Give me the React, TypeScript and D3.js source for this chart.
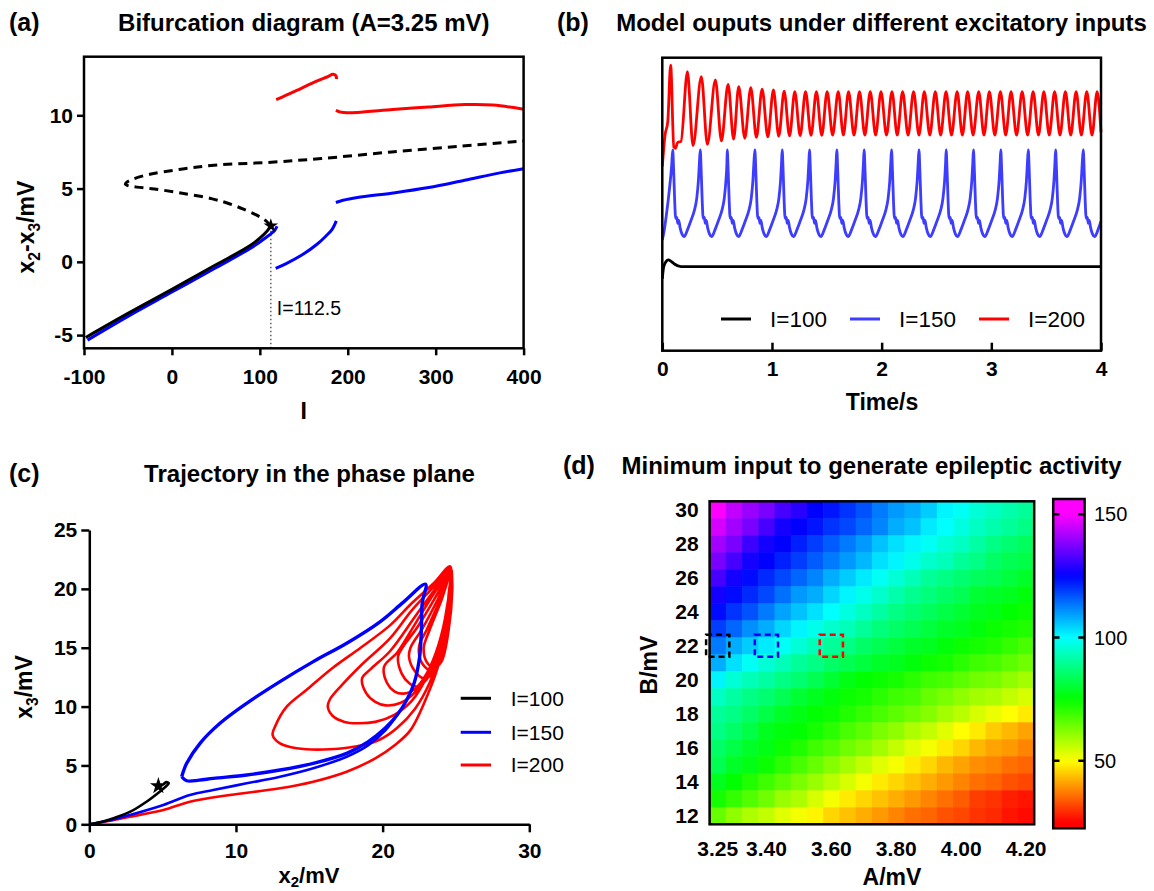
import React, { useEffect, useRef } from "react";
import * as d3 from "d3";

const FONT = "Arial, 'Liberation Sans', Helvetica, sans-serif";

// (a) bifurcation diagram, I vs x2-x3 (mV)
const bifITicks = [-100, 0, 100, 200, 300, 400];
const bifVTicks = [-5, 0, 5, 10];
const bifStable = [[-98, -5.16], [-50, -3.52], [0, -1.88], [50, -0.2], [89, 1.11], [105, 1.89], [112.5, 2.42]];
const bifUnstable = [[112.5, 2.45], [106, 2.85], [96, 3.2], [82, 3.58], [66, 3.95], [46, 4.3], [10, 4.7], [-20, 4.97], [-40, 5.1], [-50, 5.2], [-53, 5.3], [-51, 5.45], [-44, 5.65], [-25, 5.98], [8, 6.3], [48, 6.59], [113, 6.8], [170, 7.05], [250, 7.5], [330, 7.9], [400, 8.25]];
const bifBlueLow = [[-96, -5.34], [-50, -3.72], [0, -2.06], [50, -0.4], [89, 0.91], [107, 1.66], [117, 2.16], [119.5, 2.43]];
const bifBlueMid = [[118, -0.45], [130, -0.12], [150, 0.55], [165, 1.2], [175, 1.75], [182, 2.2], [187, 2.8]];
const bifBlueHigh = [[186.5, 4.05], [194.6, 4.2], [211, 4.39], [251.5, 4.7], [292, 5.07], [333, 5.57], [373, 6.07], [400, 6.36]];
const bifRedLeft = [[118.6, 11.07], [130, 11.37], [142, 11.7], [162, 12.27], [178, 12.66], [183, 12.8], [186.5, 12.7], [187.3, 12.48]];
const bifRedRight = [[186.5, 10.34], [192, 10.22], [199, 10.18], [211, 10.2], [251, 10.39], [292, 10.57], [333, 10.73], [365, 10.7], [400, 10.41]];
const hopfPoint = [112.5, 2.45];

// (b) model outputs over time (arbitrary vertical units)
const timeTicks = [0, 1, 2, 3, 4];
const outBlack = [[0, 24.5], [0.012, 28.5], [0.034, 30.4], [0.055, 31], [0.08, 30.5], [0.11, 29.6], [0.17, 28.7], [0.3, 28.7], [4, 28.7]];
const outBlueStart = [[0, 37.8], [0.015, 40.5], [0.037, 46.3], [0.066, 55.5], [0.085, 63]];
const outBluePeaks = [0.095, 0.346, 0.592, 0.844, 1.093, 1.342, 1.591, 1.84, 2.09, 2.34, 2.588, 2.837, 3.086, 3.337, 3.586, 3.838];
const outBlueCycle = [[0, 68.5], [0.009, 61], [0.018, 51], [0.027, 45.2], [0.037, 45.5], [0.046, 43.5], [0.055, 44.5], [0.067, 42], [0.085, 39.8], [0.103, 38.9], [0.137, 41.5], [0.167, 44.5], [0.198, 48], [0.219, 52], [0.234, 58], [0.243, 64]];
const outBlueEnd = [[4, 44.2]];
const outRedStart = [[0, 62.8], [0.025, 73.6], [0.05, 78.2]];
const outRedPeaks = [[0.076, 97.5], [0.229, 95.2], [0.356, 93.5], [0.484, 92.4], [0.6, 90.9], [0.697, 90.1], [0.807, 89.8], [0.91, 89.3], [1.013, 89.0], [1.111, 88.6], [1.208, 88.4], [1.306, 88.4], [1.405, 88.4], [1.503, 88.4], [1.604, 88.4], [1.698, 88.4], [1.798, 88.4], [1.896, 88.4], [1.994, 88.4], [2.094, 88.4], [2.191, 88.4], [2.291, 88.4], [2.389, 88.4], [2.489, 88.4], [2.587, 88.4], [2.688, 88.4], [2.784, 88.4], [2.885, 88.4], [2.982, 88.4], [3.083, 88.4], [3.18, 88.4], [3.281, 88.4], [3.381, 88.4], [3.479, 88.4], [3.577, 88.4], [3.675, 88.4], [3.773, 88.4], [3.87, 88.4], [3.965, 88.4]];
const outRedTroughs = [[0.105, 69.5], [0.119, 69.1], [0.14, 71.1], [0.17, 71.4], [0.28, 70.0], [0.411, 70.4], [0.539, 71.6], [0.65, 72.2], [0.752, 72.5], [0.858, 72.8], [0.962, 73.0], [1.062, 73.2], [1.16, 73.3], [1.257, 73.4], [1.356, 73.5], [1.454, 73.5], [1.553, 73.6], [1.651, 73.6], [1.748, 73.6], [1.847, 73.6], [1.945, 73.6], [2.044, 73.6], [2.142, 73.6], [2.241, 73.6], [2.34, 73.6], [2.439, 73.6], [2.538, 73.6], [2.637, 73.6], [2.736, 73.6], [2.834, 73.6], [2.933, 73.6], [3.032, 73.6], [3.131, 73.6], [3.23, 73.6], [3.331, 73.6], [3.43, 73.6], [3.528, 73.6], [3.626, 73.6], [3.724, 73.6], [3.821, 73.6], [3.918, 73.6], [4.0, 74.5]];
const inputLabels = ["I=100", "I=150", "I=200"];

// (c) phase plane, x2 vs x3 (mV)
const phaseXTicks = [0, 10, 20, 30];
const phaseYTicks = [0, 5, 10, 15, 20, 25];
const phaseBlack = [[0, 0], [0.8, 0.2], [1.6, 0.5], [2.8, 1.07], [3.9, 1.92], [4.8, 2.77], [5.3, 3.3], [5.42, 3.5], [5.25, 3.58], [5.05, 3.4]];
const phaseStar = [4.71, 3.25];
const phaseBlueIn = [[0, 0], [1.4, 0.35], [2.77, 0.79], [5.05, 1.64], [6.86, 2.49], [8.45, 2.91], [10.73, 3.48], [13.0, 4.04], [15.27, 4.76], [17.55, 5.74], [19.0, 6.7], [20.2, 8.0], [21.0, 9.3]];
const phaseBlueCycle = [[6.3, 4.04], [6.64, 3.7], [7.5, 3.75], [8.45, 3.9], [10.73, 4.19], [13.0, 4.61], [15.27, 5.18], [17.55, 6.03], [19.0, 7.0], [20.2, 8.2], [21.0, 9.3], [21.66, 10.6], [22.15, 12.0], [22.52, 14.2], [22.64, 16.5], [22.7, 18.8], [22.93, 20.4], [21.4, 18.85], [19.82, 17.2], [17.55, 15.38], [15.27, 13.82], [13.0, 12.12], [10.73, 10.28], [8.91, 8.58], [7.55, 6.88], [6.64, 5.18], [6.3, 4.04]];
const phaseRed = [[0, 0], [1.4, 0.3], [2.77, 0.65], [5.05, 1.21], [6.86, 1.92], [9.59, 2.49], [13.0, 3.06], [15.27, 3.62], [17.55, 4.47], [19.5, 5.6], [20.8, 6.7], [21.9, 8.0], [23.1, 11.1], [23.84, 13.7], [24.34, 17.9], [24.6, 21.9],
  [23.5, 20.5], [22, 18.8], [20.5, 16.9], [18.5, 15.0], [16.5, 13.2], [14.8, 11.4], [13.46, 9.99], [12.66, 8.29], [12.5, 7.59], [13.0, 6.88], [14.14, 6.46], [16.4, 6.37], [18.68, 6.74], [19.82, 7.2], [21.0, 8.2], [22.2, 9.8], [23.2, 12], [23.9, 14.5], [24.3, 17], [24.5, 19.5], [24.6, 21.7],
  [23.5, 20.2], [22, 18.2], [20.5, 15.8], [18.6, 13.6], [17.2, 11.8], [16.4, 10.6], [16.26, 9.99], [16.6, 9.2], [17.4, 8.7], [18.25, 8.58], [19.5, 8.7], [20.8, 9.3], [22, 10.5], [23, 12.5], [23.8, 15], [24.3, 17.8], [24.6, 21.5],
  [23.6, 20], [22.3, 17.8], [20.5, 14.7], [19.2, 13.2], [18.6, 12.4], [18.9, 11.1], [19.5, 10.4], [20.2, 10.1], [21.2, 10.3], [22.2, 11.2], [23.1, 13], [23.9, 15.5], [24.4, 18.5], [24.6, 21.5],
  [23.6, 19.8], [22.3, 17.2], [21, 14.6], [20.1, 13.4], [20.3, 12], [20.8, 11.3], [21.4, 11.1], [22.2, 11.5], [23, 12.8], [23.8, 15.2], [24.4, 18.5], [24.6, 21.5],
  [23.7, 19.5], [22.4, 16.8], [21.3, 14.9], [21.05, 14.24], [21.3, 12.8], [21.8, 12], [22.3, 11.7], [23, 12.3], [23.7, 14.2], [24.3, 17.5], [24.6, 21.3],
  [23.8, 19.2], [22.7, 16.6], [21.9, 15.0], [21.8, 14.2], [22.2, 13.0], [22.8, 12.4], [23.4, 12.8], [24.0, 14.8], [24.5, 18], [24.7, 21.3],
  [23.9, 19], [23.0, 16.5], [22.5, 15.2], [22.6, 13.9], [23.2, 13.1], [23.8, 13.5], [24.3, 15.5], [24.6, 18.5], [24.7, 21.5],
  [24.0, 19.0], [23.2, 16.5], [22.8, 15.0], [23.0, 13.8], [23.5, 13.3], [24.0, 13.8], [24.5, 16.5], [24.75, 20], [24.7, 21.6]];

// (d) minimum input heatmap
const aLabels = ["3.25", "3.30", "3.35", "3.40", "3.45", "3.50", "3.55", "3.60", "3.65", "3.70", "3.75", "3.80", "3.85", "3.90", "3.95", "4.00", "4.05", "4.10", "4.15", "4.20"];
const aTickLabels = ["3.25", "3.40", "3.60", "3.80", "4.00", "4.20"];
const bValues = [30, 29, 28, 27, 26, 25, 24, 23, 22, 21, 20, 19, 18, 17, 16, 15, 14, 13, 12];
const bTickValues = [30, 28, 26, 24, 22, 20, 18, 16, 14, 12];
const minInput = [
  [150, 144, 140, 137, 132, 129, 125, 123, 120, 117, 113, 110, 108, 105, 101, 99, 96, 94, 92, 90],
  [146, 141, 137, 132, 127, 125, 123, 120, 118, 115, 112, 108, 106, 102, 100, 97, 94, 92, 90, 88],
  [141, 137, 131, 127, 125, 122, 119, 116, 113, 110, 106, 103, 101, 99, 96, 94, 91, 88, 86, 84],
  [137, 132, 127, 125, 122, 119, 116, 113, 110, 107, 103, 101, 98, 95, 93, 90, 88, 85, 83, 82],
  [132, 127, 124, 121, 118, 115, 112, 108, 105, 102, 99, 96, 93, 90, 88, 86, 84, 83, 81, 79],
  [127, 124, 121, 118, 114, 110, 108, 104, 101, 98, 95, 92, 89, 87, 85, 83, 80, 79, 78, 76],
  [124, 120, 117, 113, 109, 106, 103, 100, 97, 94, 91, 88, 86, 84, 82, 80, 78, 77, 75, 74],
  [119, 115, 111, 108, 104, 101, 98, 95, 93, 90, 87, 85, 83, 81, 79, 78, 76, 74, 73, 72],
  [113, 108, 105, 102, 99, 96, 93, 90, 88, 85, 83, 81, 79, 78, 76, 74, 73, 72, 70, 68],
  [108, 103, 99, 96, 93, 90, 88, 85, 83, 81, 79, 78, 76, 74, 73, 71, 69, 68, 66, 64],
  [101, 96, 93, 91, 88, 86, 83, 80, 77, 75, 74, 73, 71, 69, 68, 66, 64, 63, 61, 59],
  [94, 91, 88, 86, 83, 80, 78, 76, 74, 73, 71, 69, 68, 65, 63, 61, 59, 58, 56, 54],
  [90, 88, 85, 82, 79, 77, 75, 74, 72, 70, 68, 66, 64, 62, 59, 57, 54, 52, 50, 48],
  [88, 85, 82, 78, 76, 75, 73, 71, 68, 66, 63, 61, 58, 56, 53, 50, 48, 45, 43, 41],
  [85, 82, 79, 77, 74, 72, 69, 67, 64, 62, 59, 56, 53, 51, 48, 46, 43, 41, 40, 38],
  [83, 79, 77, 74, 71, 68, 65, 62, 59, 56, 53, 51, 48, 46, 43, 41, 39, 38, 36, 35],
  [78, 75, 72, 69, 66, 63, 60, 57, 54, 51, 48, 46, 44, 42, 40, 38, 36, 35, 33, 32],
  [73, 70, 67, 64, 60, 58, 54, 51, 48, 46, 44, 42, 40, 38, 36, 34, 31, 30, 28, 27],
  [65, 61, 58, 56, 53, 51, 49, 46, 44, 42, 40, 38, 36, 35, 33, 32, 30, 29, 27, 26],
];
const markedA = ["3.25", "3.40", "3.60"];
const markedB = 22;
const colorTicks = [50, 100, 150];
const colorRange = [22.6, 156.2];

const seriesColors = ["#000000", "#0000ff", "#ff0000"];
const traceColors = ["#000000", "#3d3dff", "#ff0000"];

const styleAxis = (g, size = 21, keepDomain = false) => {
  g.attr("font-family", FONT).attr("font-size", size).attr("font-weight", "bold");
  if (!keepDomain) g.select(".domain").remove();
  else g.select(".domain").attr("stroke", "#000").attr("stroke-width", 2.5);
  g.selectAll(".tick line").attr("stroke", "#000").attr("stroke-width", 2.5);
  g.selectAll(".tick text").attr("fill", "#000");
};

const subText = (sel, parts, shift = 6) => {
  let shifted = false;
  parts.forEach(([t, sub]) => {
    const ts = sel.append("tspan").text(t);
    if (sub) { ts.attr("font-size", "0.68em").attr("dy", shifted ? 0 : shift); shifted = true; }
    else if (shifted) { ts.attr("dy", -shift); shifted = false; }
  });
};

const heading = (svg, label, lx, title, tx, y) => {
  svg.append("text").attr("x", lx).attr("y", y).attr("font-size", 25).attr("font-weight", "bold").text(label);
  svg.append("text").attr("x", tx).attr("y", y).attr("text-anchor", "middle").attr("font-size", 24).attr("font-weight", "bold").text(title);
};

function drawBifurcation(svg) {
  const x = d3.scaleLinear().domain([-100, 400]).range([84, 523.6]);
  const y = d3.scaleLinear().domain([-5.9, 14]).range([348.3, 56.7]);
  const g = svg.append("g");
  const line = d3.line().x(d => x(d[0])).y(d => y(d[1])).curve(d3.curveCatmullRom.alpha(0.5));

  g.append("line").attr("x1", x(hopfPoint[0])).attr("x2", x(hopfPoint[0]))
    .attr("y1", y(-5.9)).attr("y2", y(hopfPoint[1]))
    .attr("stroke", "#444").attr("stroke-width", 1.3).attr("stroke-dasharray", "1.5,2.5");

  const curves = [
    [bifBlueLow, seriesColors[1], null],
    [bifStable, seriesColors[0], null],
    [bifUnstable, seriesColors[0], "9,6"],
    [bifBlueMid, seriesColors[1], null],
    [bifBlueHigh, seriesColors[1], null],
    [bifRedLeft, seriesColors[2], null],
    [bifRedRight, seriesColors[2], null],
  ];
  curves.forEach(([data, color, dash]) => {
    g.append("path").datum(data).attr("d", line).attr("fill", "none")
      .attr("stroke", color).attr("stroke-width", 3).attr("stroke-dasharray", dash);
  });

  g.append("path").attr("d", d3.symbol(d3.symbolStar, 65)())
    .attr("transform", `translate(${x(hopfPoint[0])},${y(hopfPoint[1])})`).attr("fill", "#000");

  g.append("text").attr("x", x(hopfPoint[0]) + 6).attr("y", 315).attr("font-size", 19.5).text("I=112.5");

  g.append("rect").attr("x", 84).attr("y", 56.7).attr("width", 439.6).attr("height", 291.6)
    .attr("fill", "none").attr("stroke", "#000").attr("stroke-width", 2.5);

  g.append("g").attr("transform", "translate(0,348.3)")
    .call(d3.axisBottom(x).tickValues(bifITicks).tickSizeInner(7).tickSizeOuter(0).tickPadding(14).tickFormat(d => String(d)))
    .call(ax => styleAxis(ax));
  g.append("g").attr("transform", "translate(84,0)")
    .call(d3.axisLeft(y).tickValues(bifVTicks).tickSizeInner(7).tickSizeOuter(0).tickPadding(4).tickFormat(d => String(d)))
    .call(ax => styleAxis(ax));

  g.append("text").attr("x", 303.8).attr("y", 419).attr("text-anchor", "middle")
    .attr("font-size", 23).attr("font-weight", "bold").text("I");
  const yl = g.append("text").attr("transform", "translate(34,227) rotate(-90)")
    .attr("text-anchor", "middle").attr("font-size", 23).attr("font-weight", "bold");
  subText(yl, [["x", false], ["2", true], ["-x", false], ["3", true], ["/mV", false]]);

  heading(svg, "(a)", 9, "Bifurcation diagram (A=3.25 mV)", 303.8, 31);
}

function drawTraces(svg) {
  const x = d3.scaleLinear().domain([0, 4]).range([662.3, 1101]);
  const y = d3.scaleLinear().domain([0, 100]).range([350.7, 57.7]);
  const g = svg.append("g");
  const line = d3.line().x(d => x(d[0])).y(d => y(d[1])).curve(d3.curveMonotoneX);

  const blue = [...outBlueStart];
  outBluePeaks.forEach(p => outBlueCycle.forEach(([dt, v]) => { if (p + dt < 4) blue.push([p + dt, v]); }));
  blue.push(...outBlueEnd);
  const red = [...outRedStart, ...outRedPeaks, ...outRedTroughs].sort((a, b) => a[0] - b[0]);

  [[outBlack, traceColors[0]], [blue, traceColors[1]], [red, traceColors[2]]].forEach(([data, color]) => {
    g.append("path").datum(data).attr("d", line).attr("fill", "none")
      .attr("stroke", color).attr("stroke-width", 2.8).attr("stroke-linejoin", "round");
  });

  g.append("rect").attr("x", 662.3).attr("y", 57.7).attr("width", 438.7).attr("height", 293)
    .attr("fill", "none").attr("stroke", "#000").attr("stroke-width", 2.5);

  g.append("g").attr("transform", "translate(0,350.7)")
    .call(d3.axisBottom(x).tickValues(timeTicks).tickSizeInner(-8).tickSizeOuter(0).tickPadding(10).tickFormat(d => String(d)))
    .call(ax => styleAxis(ax));

  const lx = [721, 850, 979];
  inputLabels.forEach((lab, i) => {
    g.append("line").attr("x1", lx[i]).attr("x2", lx[i] + 30).attr("y1", 319).attr("y2", 319)
      .attr("stroke", traceColors[i]).attr("stroke-width", 3);
    g.append("text").attr("x", lx[i] + 49).attr("y", 319).attr("dy", "0.35em").attr("font-size", 22.5).text(lab);
  });

  g.append("text").attr("x", 882).attr("y", 410).attr("text-anchor", "middle")
    .attr("font-size", 23).attr("font-weight", "bold").text("Time/s");

  heading(svg, "(b)", 557, "Model ouputs under different excitatory inputs", 881.5, 31);
}

function drawPhase(svg) {
  const x = d3.scaleLinear().domain([0, 30]).range([89.3, 529.3]);
  const y = d3.scaleLinear().domain([0, 25]).range([824.3, 530]);
  const g = svg.append("g");
  const line = d3.line().x(d => x(d[0])).y(d => y(d[1])).curve(d3.curveCatmullRom.alpha(0.5));

  g.append("path").datum(phaseRed).attr("d", line).attr("fill", "none").attr("stroke", seriesColors[2]).attr("stroke-width", 2.6);
  g.append("path").datum(phaseBlueIn).attr("d", line).attr("fill", "none").attr("stroke", seriesColors[1]).attr("stroke-width", 2.6);
  g.append("path").datum(phaseBlueCycle).attr("d", line).attr("fill", "none").attr("stroke", seriesColors[1]).attr("stroke-width", 3.4);
  g.append("path").datum(phaseBlack).attr("d", line).attr("fill", "none").attr("stroke", seriesColors[0]).attr("stroke-width", 2.6);
  g.append("path").attr("d", d3.symbol(d3.symbolStar, 90)())
    .attr("transform", `translate(${x(phaseStar[0])},${y(phaseStar[1])})`).attr("fill", "#000");

  g.append("g").attr("transform", "translate(0,824.3)")
    .call(d3.axisBottom(x).tickValues(phaseXTicks).tickSizeInner(8).tickSizeOuter(0).tickPadding(11).tickFormat(d => String(d)))
    .call(ax => styleAxis(ax, 21, true));
  g.append("g").attr("transform", "translate(89.3,0)")
    .call(d3.axisLeft(y).tickValues(phaseYTicks).tickSizeInner(8).tickSizeOuter(0).tickPadding(4).tickFormat(d => String(d)))
    .call(ax => styleAxis(ax, 21, true));

  const ly = [698.3, 732.3, 765];
  inputLabels.forEach((lab, i) => {
    g.append("line").attr("x1", 460.7).attr("x2", 491).attr("y1", ly[i]).attr("y2", ly[i])
      .attr("stroke", seriesColors[i]).attr("stroke-width", 3);
    g.append("text").attr("x", 510.7).attr("y", ly[i]).attr("dy", "0.35em").attr("font-size", 21).text(lab);
  });

  const xl = g.append("text").attr("x", 309).attr("y", 883).attr("text-anchor", "middle")
    .attr("font-size", 22).attr("font-weight", "bold");
  subText(xl, [["x", false], ["2", true], ["/mV", false]], 4);
  const yl = g.append("text").attr("transform", "translate(32,687) rotate(-90)")
    .attr("text-anchor", "middle").attr("font-size", 23).attr("font-weight", "bold");
  subText(yl, [["x", false], ["3", true], ["/mV", false]]);

  heading(svg, "(c)", 9, "Trajectory in the phase plane", 309.5, 482);
}

function drawHeatmap(svg) {
  const x = d3.scaleBand().domain(aLabels).range([709.6, 1034.2]);
  const y = d3.scaleBand().domain(bValues.map(String)).range([501.3, 824.3]);
  const hue = d3.scaleLinear().domain([25, 150]).range([0, 300]).clamp(true);
  const color = v => d3.hsl(hue(v), 1, 0.5).toString();
  const g = svg.append("g");

  bValues.forEach((b, i) => {
    aLabels.forEach((a, j) => {
      g.append("rect").attr("x", x(a)).attr("y", y(String(b)))
        .attr("width", x.bandwidth() + 0.6).attr("height", y.bandwidth() + 0.6)
        .attr("fill", color(minInput[i][j]));
    });
  });
  g.append("rect").attr("x", 709.6).attr("y", 501.3).attr("width", 324.6).attr("height", 323)
    .attr("fill", "none").attr("stroke", "#000").attr("stroke-width", 2.5);

  markedA.forEach((a, i) => {
    g.append("rect").attr("x", x(a) - 3.5).attr("y", y(String(markedB)) - 2.5)
      .attr("width", x.bandwidth() + 7).attr("height", y.bandwidth() + 5)
      .attr("fill", "none").attr("stroke", seriesColors[i]).attr("stroke-width", 2.5).attr("stroke-dasharray", "6,4");
  });

  g.append("g").attr("transform", "translate(0,824.3)")
    .call(d3.axisBottom(x).tickValues(aTickLabels).tickSize(0).tickPadding(17))
    .call(ax => styleAxis(ax));
  g.append("g").attr("transform", "translate(709.6,0)")
    .call(d3.axisLeft(y).tickValues(bTickValues.map(String)).tickSize(0).tickPadding(11))
    .call(ax => styleAxis(ax));

  // colour bar
  const cy = d3.scaleLinear().domain(colorRange).range([828.3, 499]);
  const grad = svg.append("defs").append("linearGradient").attr("id", "cbar")
    .attr("x1", 0).attr("x2", 0).attr("y1", 1).attr("y2", 0);
  d3.range(0, 1.0001, 0.02).forEach(f => {
    grad.append("stop").attr("offset", f).attr("stop-color", color(colorRange[0] + f * (colorRange[1] - colorRange[0])));
  });
  g.append("rect").attr("x", 1053.2).attr("y", 499).attr("width", 31.4).attr("height", 329.3)
    .attr("fill", "url(#cbar)").attr("stroke", "#000").attr("stroke-width", 2.5);
  colorTicks.forEach(v => {
    g.append("line").attr("x1", 1053.2).attr("x2", 1059.5).attr("y1", cy(v)).attr("y2", cy(v)).attr("stroke", "#000").attr("stroke-width", 2.5);
    g.append("line").attr("x1", 1078.3).attr("x2", 1084.6).attr("y1", cy(v)).attr("y2", cy(v)).attr("stroke", "#000").attr("stroke-width", 2.5);
    g.append("text").attr("x", 1094).attr("y", cy(v)).attr("dy", "0.35em").attr("font-size", 20).text(String(v));
  });

  g.append("text").attr("x", 892).attr("y", 885).attr("text-anchor", "middle")
    .attr("font-size", 23).attr("font-weight", "bold").text("A/mV");
  g.append("text").attr("transform", "translate(657,665) rotate(-90)").attr("text-anchor", "middle")
    .attr("font-size", 23).attr("font-weight", "bold").text("B/mV");

  heading(svg, "(d)", 563, "Minimum input to generate epileptic activity", 871.6, 474);
}

const App = () => {
  const ref = useRef(null);

  useEffect(() => {
    const svg = d3.select(ref.current);
    svg.selectAll("*").remove();
    svg.attr("font-family", FONT);
    drawBifurcation(svg);
    drawTraces(svg);
    drawPhase(svg);
    drawHeatmap(svg);
  }, []);

  return (
    <svg ref={ref} width={1154} height={891}
      style={{ position: "absolute", left: 0, top: 0, background: "#fff", display: "block" }} />
  );
};

export default App;
